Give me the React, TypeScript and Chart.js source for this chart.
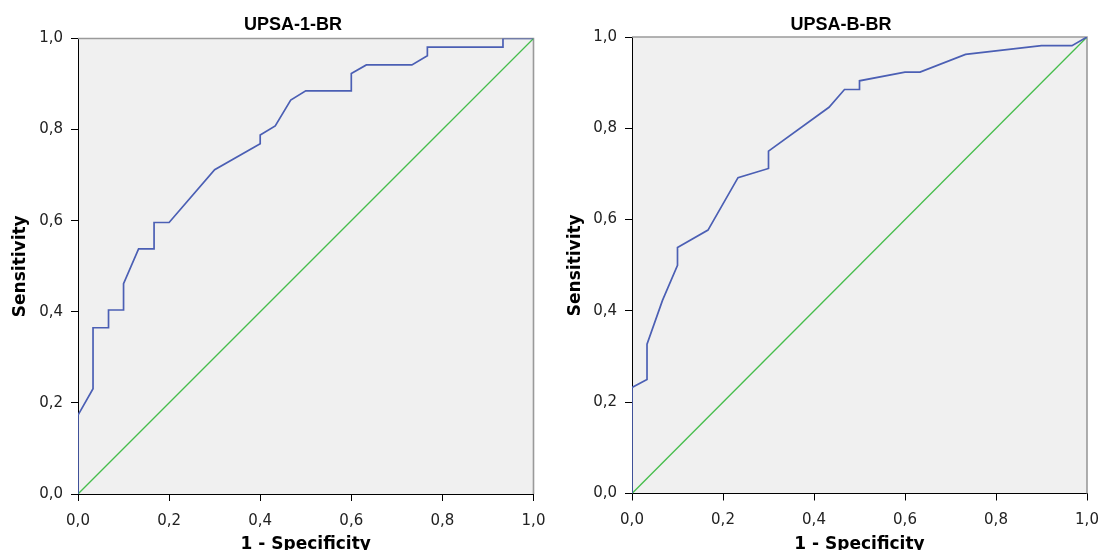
import React, { useEffect, useRef } from 'react';
import { Chart, registerables } from 'chart.js';

Chart.register(...registerables);

// ---- data ----
const tickValues = [0, 0.2, 0.4, 0.6, 0.8, 1.0];
const tickLabels = ['0,0', '0,2', '0,4', '0,6', '0,8', '1,0'];
const xAxisTitle = '1 - Specificity';
const yAxisTitle = 'Sensitivity';

const leftTitle = 'UPSA-1-BR';
const leftFpr = [0, 0, 0.033, 0.033, 0.067, 0.067, 0.1, 0.1, 0.133, 0.167, 0.167, 0.2, 0.3, 0.4, 0.4, 0.433, 0.467, 0.5, 0.6, 0.6, 0.633, 0.733, 0.767, 0.767, 0.933, 0.933, 1];
const leftTpr = [0, 0.173, 0.231, 0.365, 0.365, 0.404, 0.404, 0.462, 0.538, 0.538, 0.596, 0.596, 0.712, 0.769, 0.788, 0.808, 0.865, 0.885, 0.885, 0.923, 0.942, 0.942, 0.962, 0.981, 0.981, 1, 1];

const rightTitle = 'UPSA-B-BR';
const rightFpr = [0, 0, 0.033, 0.033, 0.067, 0.1, 0.1, 0.167, 0.233, 0.3, 0.3, 0.433, 0.467, 0.5, 0.5, 0.6, 0.633, 0.733, 0.9, 0.967, 1];
const rightTpr = [0, 0.232, 0.25, 0.327, 0.423, 0.5, 0.539, 0.577, 0.692, 0.712, 0.75, 0.846, 0.885, 0.885, 0.904, 0.923, 0.923, 0.962, 0.981, 0.981, 1];

const refFpr = [0, 1];
const refTpr = [0, 1];

// ---- styling ----
const CURVE_COLOR = '#4b5fb4';
const REF_COLOR = '#46bd4c';
const PLOT_BG = '#f0f0f0';
const FRAME_COLOR = '#9a9a9a';
const CANVAS_H = 560;

const framePlugin = {
  id: 'rocFrame',
  beforeDatasetsDraw(chart: any) {
    const { ctx, chartArea: a } = chart;
    ctx.save();
    ctx.strokeStyle = FRAME_COLOR;
    ctx.lineWidth = 1.6;
    ctx.beginPath();
    ctx.moveTo(a.left, a.top);
    ctx.lineTo(a.right, a.top);
    ctx.lineTo(a.right, a.bottom);
    ctx.stroke();
    ctx.restore();
  },
  beforeDraw(chart: any) {
    const { ctx, chartArea: a } = chart;
    ctx.save();
    ctx.fillStyle = PLOT_BG;
    ctx.fillRect(a.left, a.top, a.right - a.left, a.bottom - a.top);
    ctx.restore();
  },
};

const panelTitlePlugin = {
  id: 'panelTitle',
  afterDraw(chart: any, _args: any, opts: any) {
    const { ctx } = chart;
    ctx.save();
    ctx.font = 'bold 18px "Liberation Sans", Arial, sans-serif';
    ctx.fillStyle = '#000';
    ctx.textAlign = 'center';
    ctx.textBaseline = 'alphabetic';
    ctx.fillText(opts.text, opts.x, opts.y);
    ctx.restore();
  },
};

type PanelProps = {
  title: string;
  fpr: number[];
  tpr: number[];
  width: number;
  left: number;
  area: { left: number; right: number; top: number; bottom: number };
  titleX: number;
  yTitlePad: number;
};

function RocPanel({ title, fpr, tpr, width, left, area, titleX, yTitlePad }: PanelProps) {
  const ref = useRef<HTMLCanvasElement | null>(null);

  useEffect(() => {
    if (!ref.current) return;
    const tickFont = { family: '"DejaVu Sans", Verdana, sans-serif', size: 15 };
    const titleFont = { family: '"DejaVu Sans", Verdana, sans-serif', size: 17, weight: 'bold' as const };
    const chart = new Chart(ref.current, {
      type: 'line',
      data: {
        datasets: [
          {
            label: title,
            data: fpr.map((x, i) => ({ x, y: tpr[i] })),
            borderColor: CURVE_COLOR,
            borderWidth: 1.7,
            pointRadius: 0,
            tension: 0,
            fill: false,
          },
          {
            label: 'Reference',
            data: refFpr.map((x, i) => ({ x, y: refTpr[i] })),
            borderColor: REF_COLOR,
            borderWidth: 1.3,
            pointRadius: 0,
            tension: 0,
            fill: false,
          },
        ],
      },
      options: {
        responsive: false,
        animation: false,
        layout: {
          padding: { left: 0, top: area.top, right: width - area.right, bottom: 0 },
        },
        plugins: {
          legend: { display: false },
          title: { display: false },
          tooltip: { enabled: false },
          panelTitle: { text: title, x: titleX, y: 30 },
        } as any,
        scales: {
          x: {
            type: 'linear',
            min: 0,
            max: 1,
            afterBuildTicks: (s: any) => {
              s.ticks = tickValues.map((v) => ({ value: v }));
            },
            afterFit: (s: any) => {
              s.height = CANVAS_H - area.bottom;
              s.paddingLeft = 0;
              s.paddingRight = 0;
            },
            ticks: {
              callback: (_v: any, i: number) => tickLabels[i],
              font: tickFont,
              color: '#222',
              padding: 11,
              maxRotation: 0,
            },
            grid: { drawOnChartArea: false, drawTicks: true, tickLength: 7, color: '#000' },
            border: { display: true, color: '#000', width: 1 },
            title: { display: true, text: xAxisTitle, font: titleFont, color: '#000', padding: { top: 0, bottom: 5 } },
          },
          y: {
            type: 'linear',
            min: 0,
            max: 1,
            afterBuildTicks: (s: any) => {
              s.ticks = tickValues.map((v) => ({ value: v }));
            },
            afterFit: (s: any) => {
              s.width = area.left;
              s.paddingTop = 0;
              s.paddingBottom = 0;
            },
            ticks: {
              callback: (_v: any, i: number) => tickLabels[i],
              font: tickFont,
              color: '#222',
              padding: 8,
            },
            grid: { drawOnChartArea: false, drawTicks: true, tickLength: 7, color: '#000' },
            border: { display: true, color: '#000', width: 1 },
            title: { display: true, text: yAxisTitle, font: titleFont, color: '#000', padding: { top: yTitlePad, bottom: 0 } },
          },
        },
      },
      plugins: [framePlugin, panelTitlePlugin],
    } as any);
    return () => chart.destroy();
  }, [title, fpr, tpr, width, area, titleX, yTitlePad]);

  return (
    <canvas
      ref={ref}
      width={width}
      height={CANVAS_H}
      style={{ position: 'absolute', left, top: 0, width, height: CANVAS_H, display: 'block' }}
    />
  );
}

const leftArea = { left: 78, right: 533.5, top: 38.5, bottom: 494 };
const rightArea = { left: 81, right: 536, top: 37, bottom: 493.5 };

export default function App() {
  return (
    <div
      style={{
        position: 'fixed',
        left: 0,
        top: 0,
        width: 1103,
        height: 550,
        overflow: 'hidden',
        background: '#fff',
      }}
    >
      <RocPanel title={leftTitle} fpr={leftFpr} tpr={leftTpr} width={551} left={0} area={leftArea} titleX={293} yTitlePad={10} />
      <RocPanel title={rightTitle} fpr={rightFpr} tpr={rightTpr} width={552} left={551} area={rightArea} titleX={290} yTitlePad={14} />
    </div>
  );
}
